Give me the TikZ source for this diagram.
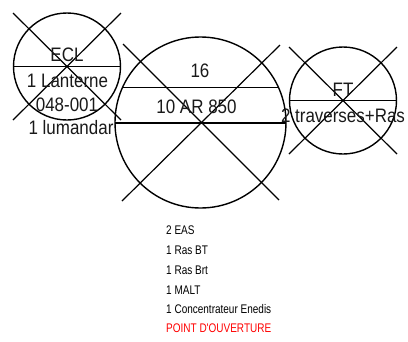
\documentclass[tikz,border=0pt]{standalone}
\usepackage{fontspec}
\setmainfont{Liberation Sans}
\newfontfamily\bigfont[FakeStretch=0.87]{Liberation Sans}
\newfontfamily\smallfont[FakeStretch=0.8]{Liberation Sans}
\definecolor{ptred}{RGB}{255,0,0}
\tikzset{
  ring/.style={circle,draw=black,line width=1.4pt,inner sep=0pt,minimum size=#1,anchor=center},
  bar/.style={draw=black,line width=1.5pt},
  slash/.style={draw=black,line width=1.2pt},
  biglabel/.style={anchor=base,inner sep=0pt,font=\bigfont\fontsize{19.5pt}{20pt}\selectfont,text=black!90},
  smalllabel/.style={anchor=base west,inner sep=0pt,font=\smallfont\fontsize{12.5pt}{13pt}\selectfont,text=black}
}
\begin{document}
\begin{tikzpicture}[x=1pt,y=-1pt]
\useasboundingbox (0,0) rectangle (408,341);
% circles
\node[ring=107pt] (c1) at (67,66.5) {};
\node[ring=171pt] (c2) at (200.5,122.5) {};
\node[ring=107pt] (c3) at (343,100.5) {};
% cross ends
\coordinate (a1) at (13,13); \coordinate (a2) at (121,120);
\coordinate (a3) at (121,13); \coordinate (a4) at (13,120);
\coordinate (b1) at (123,44); \coordinate (b2) at (279,200);
\coordinate (b3) at (280,45); \coordinate (b4) at (122,201);
\coordinate (d1) at (289,47); \coordinate (d2) at (397,154);
\coordinate (d3) at (397,47); \coordinate (d4) at (289,154);
\draw[slash] (a1) -- (a2);
\draw[slash] (a3) -- (a4);
\draw[slash] (b1) -- (b2);
\draw[slash] (b3) -- (b4);
\draw[slash] (d1) -- (d2);
\draw[slash] (d3) -- (d4);
% horizontals
\draw[bar] (c1.west) -- (c1.east);
\path (c2.center) ++(-85.5,0.5) coordinate (f1) (c2.center) ++(85.5,0.5) coordinate (f2);
\draw[bar] (f1) -- (f2);
\path (c2.center) ++(-78,-35) coordinate (e1) (c2.center) ++(78,-35) coordinate (e2);
\draw[draw=black,line width=1pt] (e1) -- (e2);
\draw[bar] (c3.west) -- (c3.east);
% labels
\node[biglabel] (t1) at (67,61) {ECL};
\node[biglabel] (t2) at (67.5,87) {1 Lanterne};
\node[biglabel] (t3) at (67,111) {048-001};
\node[biglabel] (t4) at (71,134) {1 lumandar};
\node[biglabel] (t5) at (200,77) {16};
\node[biglabel] (t6) at (196.5,113) {10 AR 850};
\node[biglabel] (t7) at (343,96) {FT};
\node[biglabel] (t8) at (343,122) {2 traverses+Ras};
\node[smalllabel] (s1) at (166,234) {2 EAS};
\node[smalllabel] (s2) at (166,254) {1 Ras BT};
\node[smalllabel] (s3) at (166,274) {1 Ras Brt};
\node[smalllabel] (s4) at (166,294) {1 MALT};
\node[smalllabel] (s5) at (166,313) {1 Concentrateur Enedis};
\node[smalllabel,text=ptred] (s6) at (166,332) {POINT D'OUVERTURE};
\end{tikzpicture}
\end{document}
